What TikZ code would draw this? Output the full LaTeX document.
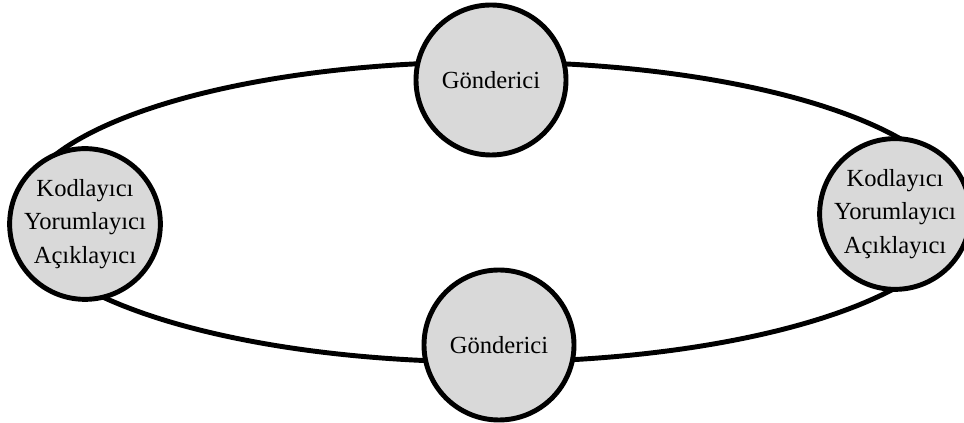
\documentclass[tikz,border=0pt]{standalone}
\usepackage{fontspec}
\setmainfont{Liberation Serif}
\usetikzlibrary{positioning}

\begin{document}
\begin{tikzpicture}[rol/.style={circle,draw=black,line width=2.8pt,fill=black!15,minimum size=3.0cm,inner sep=0pt,align=center,font=\fontsize{14}{19}\selectfont}]
\useasboundingbox (0,0) rectangle (19.28,8.46);
\draw[line width=2.8pt] (9.8,4.22) ellipse (9.4 and 3.0);

\node[rol] (gonderici1) at (9.82,6.86) {Gönderici};
\node[rol] (gonderici2) at (9.98,1.56) {Gönderici};
\node[rol] (kodlayici1) at (1.70,3.98) {Kodlayıcı\\Yorumlayıcı\\Açıklayıcı};
\node[rol] (kodlayici2) at (17.90,4.18) {Kodlayıcı\\Yorumlayıcı\\Açıklayıcı};

\end{tikzpicture}
\end{document}
